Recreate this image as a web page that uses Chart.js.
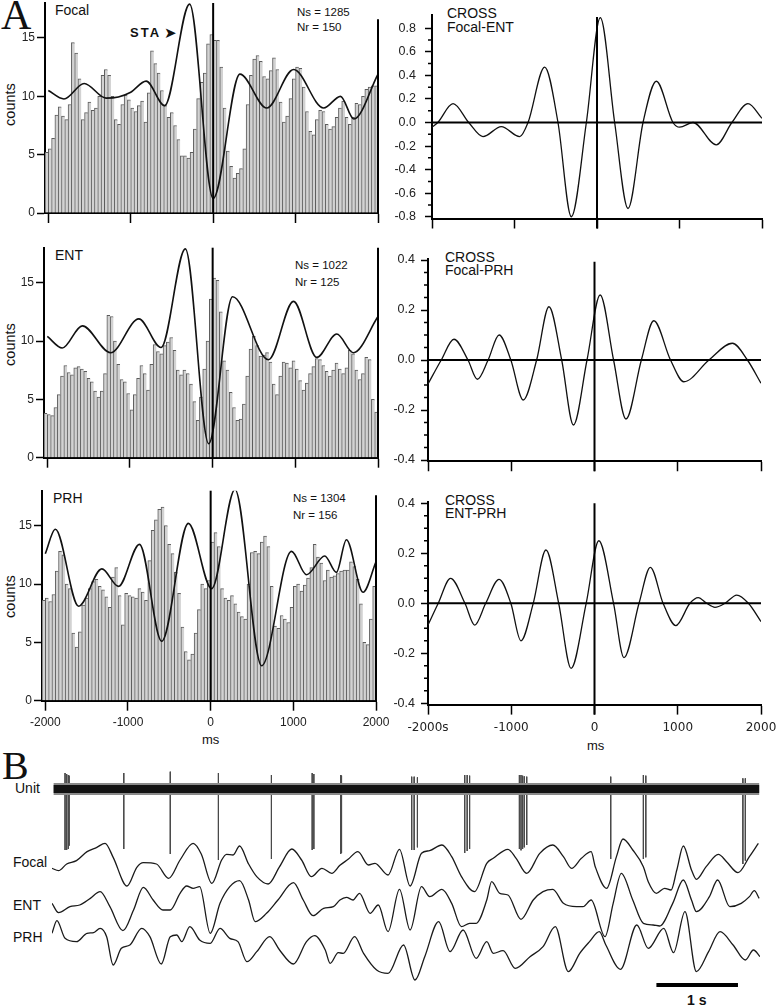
<!DOCTYPE html>
<html>
<head>
<meta charset="utf-8">
<script src="https://cdn.jsdelivr.net/npm/chart.js@4.4.1/dist/chart.umd.min.js"></script>
<style>
  body { margin: 0; background: #fff; }
  #fig { position: relative; width: 781px; height: 1008px; overflow: hidden;
         font-family: "Liberation Sans", Arial, sans-serif; color: #111; }
  #fig canvas { position: absolute; }
  .t { position: absolute; white-space: nowrap; line-height: 1; font-size: 14px; }
  .serif { font-family: "Liberation Serif", "Times New Roman", serif; }
  .rot { transform: rotate(-90deg); text-align: center; }
</style>
</head>
<body>
<div id="fig">
  <div class="t serif" style="left:1px;top:-6px;font-size:42px">A</div>
  <div class="t serif" style="left:2px;top:746px;font-size:40px">B</div>

  <!-- histogram panels -->
  <div class="t" style="left:55px;top:3px">Focal</div>
  <div class="t" style="left:130px;top:25px;font-size:13px;font-weight:bold;letter-spacing:2px">STA<span style="font-family:'DejaVu Sans';font-size:15px;letter-spacing:0;position:relative;top:1px;margin-left:3px">➤</span></div>
  <div class="t" style="left:297px;top:7px;font-size:11.5px">Ns = 1285</div>
  <div class="t" style="left:297px;top:22px;font-size:11.5px">Nr = 150</div>
  <div class="t rot" style="left:-20px;top:97px;width:60px;height:15px;font-size:14.5px">counts</div>

  <div class="t" style="left:55px;top:248px">ENT</div>
  <div class="t" style="left:295px;top:260px;font-size:11.5px">Ns = 1022</div>
  <div class="t" style="left:295px;top:277px;font-size:11.5px">Nr = 125</div>
  <div class="t rot" style="left:-20px;top:337px;width:60px;height:15px;font-size:14.5px">counts</div>

  <div class="t" style="left:53px;top:491px">PRH</div>
  <div class="t" style="left:293px;top:493px;font-size:11.5px">Ns = 1304</div>
  <div class="t" style="left:293px;top:510px;font-size:11.5px">Nr = 156</div>
  <div class="t rot" style="left:-20px;top:589px;width:60px;height:15px;font-size:14.5px">counts</div>
  <div class="t" style="left:202px;top:733px;font-size:13px">ms</div>

  <!-- cross-correlation panels -->
  <div class="t" style="left:447px;top:6px">CROSS</div>
  <div class="t" style="left:447px;top:20px">Focal-ENT</div>
  <div class="t" style="left:445px;top:250px">CROSS</div>
  <div class="t" style="left:445px;top:263px">Focal-PRH</div>
  <div class="t" style="left:445px;top:493px">CROSS</div>
  <div class="t" style="left:445px;top:506px">ENT-PRH</div>
  <div class="t" style="left:587px;top:739px;font-size:13px">ms</div>

  <!-- raw traces -->
  <div class="t" style="left:15px;top:781px">Unit</div>
  <div class="t" style="left:13px;top:855px">Focal</div>
  <div class="t" style="left:13px;top:898px">ENT</div>
  <div class="t" style="left:13px;top:930px">PRH</div>
  <div class="t" style="left:687px;top:993px;font-weight:bold">1 s</div>
</div>

<script>
// ─── DATA ───────────────────────────────────────────────────────
// histogram bins: 40 ms wide, first bin starts at -2040 ms
const binStart = -2040;
const binWidth = 40;

const focalCounts = [5.2,
  5.5,6.4,8.4,9.1,8.3,8.0,9.3,14.6,13.7,11.5, 8.0,8.6,9.5,8.8,9.0,10.0,11.8,12.3,11.8,10.0,
  8.0,7.6,9.3,10.1,9.7,9.0,8.7,9.2,9.6,7.8, 10.3,13.9,12.8,12.0,10.5,9.2,8.2,8.6,7.5,6.3,
  4.9,4.9,4.7,5.2,7.2,9.8,11.2,12.0,14.5,15.3, 14.8,14.8,12.5,9.0,5.3,4.0,3.0,3.4,3.8,5.5,
  9.3,11.8,13.2,13.5,13.0,11.7,11.5,12.2,13.3,12.3, 9.5,7.8,8.3,9.8,11.5,12.5,12.4,10.8,8.7,7.0,
  6.7,8.0,8.8,8.7,7.6,7.2,7.4,8.2,9.0,9.6, 8.2,7.6,8.2,9.4,9.3,10.0,10.6,10.8,10.9,10.9];

const entCounts = [3.8,
  3.7,3.6,4.3,5.4,7.0,7.9,7.3,7.1,7.7,7.8, 7.6,7.4,6.8,6.5,5.7,5.2,5.7,7.2,12.2,12.1,
  10.0,8.0,6.7,6.5,5.5,4.1,5.4,6.8,7.9,7.2, 5.8,8.0,9.7,9.1,8.9,9.6,9.9,10.3,9.2,7.5,
  7.1,7.5,7.2,6.3,4.8,3.2,5.2,7.6,10.0,13.6, 15.4,15.2,12.5,8.3,7.5,5.6,4.3,3.2,3.3,4.6,
  7.0,9.3,10.4,9.6,8.7,8.8,9.0,8.2,6.3,5.4, 7.0,8.2,8.1,7.7,8.3,7.6,6.6,5.8,6.4,7.2,
  7.8,8.5,8.4,7.9,7.4,7.0,7.5,8.1,7.6,7.2, 7.7,9.2,8.9,7.5,6.7,7.2,8.6,8.4,5.0,3.9];

const prhCounts = [8.6,
  8.8,8.5,9.1,11.1,12.8,12.5,10.0,9.6,5.8,4.6, 5.9,8.2,8.8,9.6,10.2,10.4,9.8,9.5,8.9,8.0,
  10.6,11.4,9.0,6.5,9.2,9.0,8.9,8.8,9.6,9.3, 8.6,12.0,14.6,15.5,16.4,16.6,15.0,13.4,12.6,11.0,
  9.2,6.3,4.2,3.5,4.0,5.8,7.8,10.0,9.6,10.3, 13.6,14.4,13.2,9.6,8.8,8.6,9.0,8.3,7.6,7.2,
  7.0,10.0,12.7,12.8,12.6,13.6,14.1,13.2,9.8,6.4, 6.2,7.3,7.0,6.7,8.0,9.8,10.0,9.4,9.9,10.5,
  11.4,13.4,12.3,11.8,10.3,11.2,10.6,10.7,10.9,11.1, 11.2,11.2,11.9,11.5,10.4,8.3,5.0,4.8,7.0,9.8];

// spike-triggered averages (ms, value on the counts scale)
const focalStaT = [-2000,-1810,-1565,-1300,-1150,-1000,-813,-589,-285,0,325,650,976,1341,1545,1707,2000];
const focalStaV = [10.5,9.77,11.1,9.85,9.95,10.35,11.3,9.2,17.9,1.25,11.9,9.0,12.3,9.0,10.0,8.06,11.9];
const entStaT   = [-2000,-1819,-1577,-1235,-893,-624,-330,-48,241,676,978,1260,1501,1702,2000];
const entStaV   = [10.4,9.4,11.3,9.0,11.9,9.45,17.9,1.2,13.8,8.4,13.4,8.6,10.6,9.0,12.1];
const prhStaT   = [-2000,-1879,-1597,-1316,-1115,-861,-592,-270,12,294,616,978,1159,1380,1521,1642,1843,2000];
const prhStaV   = [12.6,14.7,8.1,11.3,9.8,13.4,5.1,15.2,9.6,18.1,3.0,12.8,10.8,12.4,11.0,13.8,9.3,11.9];

// cross-correlations (ms, r)
const crossFeT = [-2000,-1930,-1745,-1555,-1382,-1160,-937,-836,-634,-473,-311,-129,40,214,376,558,719,921,1002,1164,1446,1635,1830,2000];
const crossFeV = [-0.04,0,0.16,0,-0.12,-0.035,-0.12,0,0.47,0,-0.80,0,0.89,0,-0.73,0,0.35,0,-0.04,0,-0.19,0,0.16,0.035];
const crossFpT = [-2000,-1841,-1688,-1520,-1407,-1278,-1146,-1005,-856,-695,-547,-394,-253,-90,68,229,378,563,712,913,1073,1375,1656,1837,2000];
const crossFpV = [-0.096,0,0.083,0,-0.077,0,0.10,0,-0.16,0,0.213,0,-0.26,0,0.26,0,-0.236,0,0.157,0,-0.087,0,0.067,0,-0.093];
const crossEpT = [-2000,-1877,-1729,-1556,-1439,-1307,-1146,-1005,-884,-736,-583,-430,-281,-100,52,229,354,535,671,824,977,1146,1246,1347,1447,1568,1709,1849,2000];
const crossEpV = [-0.087,0,0.10,0,-0.087,0,0.096,0,-0.15,0,0.213,0,-0.26,0,0.25,0,-0.217,0,0.144,0,-0.089,0,0.023,0,-0.016,0,0.033,0,-0.073];

// raw traces (s, arbitrary units)
const focalT = [0.00,0.08,0.18,0.30,0.43,0.55,0.65,0.75,0.92,1.04,1.12,1.28,1.43,1.57,1.73,1.83,1.96,2.08,2.14,2.22,
  2.30,2.41,2.51,2.65,2.79,2.94,3.06,3.18,3.31,3.43,3.53,3.63,3.75,3.88,3.96,4.12,4.26,4.39,4.53,4.63,
  4.78,4.90,5.02,5.18,5.33,5.41,5.59,5.69,5.82,5.98,6.14,6.27,6.37,6.49,6.61,6.66,6.80,6.92,7.00,7.12,
  7.25,7.31,7.41,7.51,7.59,7.66,7.74,7.84,7.90,8.02,8.17,8.27,8.41,8.55,8.66];
const focalV = [-1.0,-1.7,0.3,1.3,4.0,5.3,6.5,2.3,-6.3,-0.7,0.7,0.3,-4.0,1.5,6.5,3.3,-5.5,1.5,3.2,3.0,
  5.7,0.3,-3.5,-5.7,-0.5,4.8,1.5,-3.5,-1.0,-2.5,-0.1,1.7,4.0,0.0,0.5,-3.0,4.7,-6.3,3.5,4.3,
  6.0,2.5,-3.5,-8.0,0.5,2.0,4.7,2.0,-2.5,3.5,6.0,2.5,-1.0,2.0,4.0,-0.5,-7.0,2.5,7.8,4.5,
  -0.5,-5.0,-8.5,-7.0,-7.5,-1.5,5.7,-1.5,-4.3,-0.5,3.2,1.0,-2.3,2.5,6.5];
const entT = [0.00,0.08,0.22,0.34,0.47,0.59,0.71,0.87,1.00,1.12,1.24,1.36,1.45,1.57,1.65,1.73,1.81,1.94,2.06,2.18,
  2.30,2.41,2.49,2.63,2.77,2.96,3.08,3.20,3.33,3.45,3.53,3.61,3.69,3.77,3.90,4.00,4.12,4.26,4.39,4.53,
  4.63,4.78,4.90,5.02,5.12,5.20,5.33,5.39,5.49,5.59,5.75,5.90,6.02,6.14,6.27,6.43,6.51,6.61,6.78,6.88,
  6.98,7.12,7.25,7.37,7.45,7.61,7.74,7.84,7.90,8.06,8.16,8.31,8.45,8.55,8.61,8.67];
const entV = [1.5,-1.3,0.5,1.0,3.0,5.0,0.5,-6.7,-0.5,6.3,2.5,-0.5,-0.5,4.5,6.7,6.0,6.5,-7.5,1.5,6.5,
  8.3,2.5,-4.0,-1.5,2.5,7.7,2.5,-2.2,0.0,0.5,2.5,3.3,2.5,4.5,-1.5,1.0,-7.0,5.7,-6.5,6.5,
  3.5,5.7,1.5,-5.5,-4.5,-4.5,2.5,8.0,4.5,4.0,-3.3,2.5,5.0,5.7,1.5,0.5,0.5,2.5,-8.5,1.5,
  10.5,2.5,-4.5,-5.0,-5.3,1.5,8.5,2.5,-1.0,3.5,8.5,0.5,1.5,3.5,5.3,3.0];
const prhT = [0.00,0.06,0.16,0.30,0.43,0.51,0.59,0.67,0.75,0.85,0.955,1.10,1.20,1.34,1.45,1.53,1.59,1.69,1.81,1.94,
  2.06,2.18,2.28,2.39,2.51,2.67,2.79,2.96,3.12,3.22,3.35,3.41,3.51,3.57,3.71,3.82,3.98,4.12,4.31,4.45,
  4.57,4.74,4.88,5.04,5.20,5.33,5.41,5.53,5.68,5.86,6.02,6.17,6.33,6.47,6.59,6.71,6.79,6.97,7.17,7.31,
  7.50,7.62,7.76,7.90,8.05,8.19,8.35,8.50,8.60,8.68];
const prhV = [4.0,7.8,2.5,1.5,4.0,4.2,5.5,3.0,-5.5,-0.5,0.5,5.5,3.0,-5.2,3.0,3.5,1.5,6.0,2.0,1.0,
  5.5,2.5,1.5,-4.5,-1.5,3.0,-1.0,-5.2,1.5,3.3,-1.0,-5.0,-1.8,-2.0,3.0,-2.0,-7.0,-8.0,0.5,-10.0,
  -3.0,7.5,-1.5,5.0,-3.5,1.5,-2.0,-1.2,-6.5,-3.0,0.0,6.0,-7.5,-2.0,1.5,4.5,0.5,-6.8,6.5,-0.5,
  5.5,-1.8,10.5,-7.5,-1.5,4.5,0.5,-4.0,-1.0,-3.0];

// unit spikes (s), downward depth and upward height
const spikeT     = [0.16,0.18,0.20,0.21,0.88,1.45,2.04,2.69,3.19,3.21,3.54,3.55,4.41,4.44,4.48,5.06,5.09,5.12,5.73,5.75,5.77,5.79,5.82,6.85,7.25,7.28,8.47,8.50];
const spikeDepth = [-18.3,-18.3,-18,-17,-18,-19.5,-21.3,-21,-18.3,-18,-19.5,-19.2,-18.3,-18.3,-17.5,-19.2,-18.6,-18,-18,-18.4,-18,-17.5,-16.8,-21,-21,-20.5,-22.5,-21.5];
const spikeTop   = [4.8,4.5,4.2,4.0,4.8,5.2,4.8,4.2,4.8,4.5,4.2,4.0,3.7,3.7,3.5,4.2,4.2,4.0,4.2,4.2,4.0,3.8,3.7,3.7,4.2,4.0,3.2,3.2];
const unitSpan   = [0.02, 8.67];
const scaleBarT  = [7.41, 8.41];   // 1 s

// ticks
const histXTicks  = [-2000, -1000, 0, 1000, 2000];
const histXLabels = ['-2000', '-1000', '0', '1000', '2000'];
const crossXLabels = ['-2000s', '-1000', '0', '1000', '2000'];
const countTicks  = [0, 5, 10, 15];
const wideTicks   = [-0.8, -0.6, -0.4, -0.2, 0, 0.2, 0.4, 0.6, 0.8];
const wideMinor   = [-0.7, -0.5, -0.3, -0.1, 0.1, 0.3, 0.5, 0.7];
const narrowTicks = [-0.4, -0.2, 0, 0.2, 0.4];
const narrowMinor = [-0.35, -0.3, -0.25, -0.15, -0.1, -0.05, 0.05, 0.1, 0.15, 0.25, 0.3, 0.35];

// ─── HELPERS ────────────────────────────────────────────────────
const SANS = '"Liberation Sans", Arial, sans-serif';
const pts = (xs, ys, off = 0) => xs.map((x, i) => ({ x, y: ys[i] + off }));

function makeCanvas(b) {
  const c = document.createElement('canvas');
  c.width = b.w; c.height = b.h;
  c.style.left = b.l + 'px'; c.style.top = b.t + 'px';
  document.getElementById('fig').appendChild(c);
  return c;
}

// reference lines + minor ticks, drawn through the chart's scales
const refLines = {
  id: 'refLines',
  afterDatasetsDraw(chart, args, o) {
    const { ctx, chartArea: a, scales: { x, y } } = chart;
    ctx.save();
    ctx.strokeStyle = '#000';
    (o.vlines || []).forEach(v => {
      ctx.lineWidth = 2;
      const px = x.getPixelForValue(v.x);
      ctx.beginPath();
      ctx.moveTo(px, y.getPixelForValue(v.top));
      ctx.lineTo(px, a.bottom + (v.below || 0));
      ctx.stroke();
    });
    (o.hlines || []).forEach(h => {
      ctx.lineWidth = 2;
      const py = y.getPixelForValue(h.y);
      ctx.beginPath();
      ctx.moveTo(a.left, py);
      ctx.lineTo(a.right, py);
      ctx.stroke();
    });
    if (o.minor) {
      ctx.lineWidth = 1.5;
      ctx.beginPath();
      o.minor.forEach(m => {
        const py = y.getPixelForValue(m);
        ctx.moveTo(a.left - 4, py);
        ctx.lineTo(a.left, py);
      });
      ctx.stroke();
    }
    ctx.restore();
  }
};

const tickGrid = len => ({ drawOnChartArea: false, drawTicks: true, tickLength: len, tickWidth: 1.5, tickColor: '#000' });
const border = { display: true, color: '#000', width: 2 };

function xAxis(b, min, labels, font, pad) {
  return {
    type: 'linear', min, max: 2000, offset: false,
    afterBuildTicks: s => { s.ticks = histXTicks.map(v => ({ value: v })); },
    afterFit: s => { s.height = b.xH; s.paddingLeft = 0; s.paddingRight = 0; },
    grid: Object.assign(tickGrid(10), { offset: false }), border,
    ticks: { display: !!labels, autoSkip: false, maxRotation: 0, padding: pad, color: '#222',
             font: { family: font, size: 12 },
             callback: (v, i) => labels ? labels[i] : '' }
  };
}

// ─── 1. HISTOGRAMS + STA ────────────────────────────────────────
function histChart(b, counts, staT, staV, vlines, labels) {
  const bars = counts.map((c, i) => ({ x: binStart + binWidth * (i + 0.5), y: c }));
  return new Chart(makeCanvas(b), {
    type: 'bar',
    data: { datasets: [
      { type: 'line', data: pts(staT, staV), borderColor: '#111', borderWidth: 1.6,
        pointRadius: 0, cubicInterpolationMode: 'monotone', order: 0 },
      { type: 'bar', data: bars, backgroundColor: '#d2d2d2', borderColor: '#5c5c5c',
        borderWidth: { left: 1, top: 1, right: 0, bottom: 0 },
        barPercentage: 1, categoryPercentage: 1, order: 1 }
    ]},
    options: {
      responsive: false, animation: false, devicePixelRatio: 1,
      layout: { padding: { left: 0, top: b.padTop, right: b.padRight, bottom: 0 } },
      plugins: { legend: { display: false }, tooltip: { enabled: false }, refLines: { vlines } },
      scales: {
        x: xAxis(b, binStart, labels, SANS, 5),
        y: {
          min: 0, max: 18,
          afterBuildTicks: s => { s.ticks = countTicks.map(v => ({ value: v })); },
          afterFit: s => { s.width = b.yW; s.paddingTop = 0; s.paddingBottom = 0; },
          grid: tickGrid(8), border,
          ticks: { padding: 2, color: '#222', font: { family: SANS, size: 12 } }
        }
      }
    },
    plugins: [refLines]
  });
}

histChart({ l: 0, t: 0, w: 390, h: 232, padTop: 3, padRight: 12, yW: 45, xH: 19 },
  focalCounts, focalStaT, focalStaV, [{ x: 0, top: 18 }, { x: 2000, top: 16.6 }], null);
histChart({ l: 0, t: 240, w: 390, h: 236, padTop: 7.7, padRight: 12, yW: 44, xH: 18.3 },
  entCounts, entStaT, entStaV, [{ x: 0, top: 18 }, { x: 2000, top: 18 }], null);
histChart({ l: 0, t: 480, w: 390, h: 270, padTop: 10.7, padRight: 14, yW: 42, xH: 49.3 },
  prhCounts, prhStaT, prhStaV, [{ x: 0, top: 18 }, { x: 2000, top: 17.6 }], histXLabels);

// ─── 2. CROSS-CORRELATIONS ──────────────────────────────────────
function crossChart(b, xs, ys, range, ticks, minor, vTop, labels, yPad) {
  return new Chart(makeCanvas(b), {
    type: 'line',
    data: { datasets: [{ data: pts(xs, ys), borderColor: '#111', borderWidth: 1.3,
                         pointRadius: 0, cubicInterpolationMode: 'monotone' }] },
    options: {
      responsive: false, animation: false, devicePixelRatio: 1,
      layout: { padding: { left: 0, top: b.padTop, right: b.padRight, bottom: 0 } },
      plugins: { legend: { display: false }, tooltip: { enabled: false },
                 refLines: { vlines: [{ x: 0, top: vTop, below: 10 }], hlines: [{ y: 0 }], minor } },
      scales: {
        x: xAxis(b, -2000, labels, '"DejaVu Sans", sans-serif', 6),
        y: {
          min: range[0], max: range[1],
          afterBuildTicks: s => { s.ticks = ticks.map(v => ({ value: v })); },
          afterFit: s => { s.width = b.yW; s.paddingTop = 0; s.paddingBottom = 0; },
          grid: tickGrid(7), border,
          ticks: { padding: yPad, color: '#222', font: { family: SANS, size: 12.5 },
                   callback: v => v.toFixed(1) }
        }
      }
    },
    plugins: [refLines]
  });
}

crossChart({ l: 390, t: 0, w: 391, h: 236, padTop: 15.3, padRight: 19, yW: 42, xH: 17.5 },
  crossFeT, crossFeV, [-0.815, 0.91], wideTicks, wideMinor, 0.896, null, 9);
crossChart({ l: 390, t: 245, w: 391, h: 235, padTop: 13.75, padRight: 20, yW: 38, xH: 18.75 },
  crossFpT, crossFpV, [-0.405, 0.405], narrowTicks, narrowMinor, 0.393, null, 6);
crossChart({ l: 390, t: 490, w: 391, h: 270, padTop: 12, padRight: 20, yW: 38, xH: 55.4 },
  crossEpT, crossEpV, [-0.405, 0.405], narrowTicks, narrowMinor, 0.4, crossXLabels, 6);

// ─── 3. RAW TRACES (panel B) ────────────────────────────────────
const unitBase = 64.8, focalBase = 42, entBase = 29, prhBase = 17.5, barLevel = 6;

const spikeData = [];
spikeT.forEach((t, i) => {
  spikeData.push({ x: t, y: unitBase + spikeTop[i] }, { x: t, y: unitBase + spikeDepth[i] }, { x: t, y: null });
});
const trace = (data, w, color) => ({ data, borderColor: color, borderWidth: w, pointRadius: 0,
                                     cubicInterpolationMode: 'monotone' });

// Chart.js draws dataset 0 last (on top)
new Chart(makeCanvas({ l: 0, t: 760, w: 781, h: 248 }), {
  type: 'line',
  data: { datasets: [
    trace(pts(focalT, focalV, focalBase), 1.3, '#1a1a1a'),
    trace(pts(entT, entV, entBase), 1.3, '#1a1a1a'),
    trace(pts(prhT, prhV, prhBase), 1.3, '#1a1a1a'),
    trace(scaleBarT.map(t => ({ x: t, y: barLevel })), 4, '#000'),
    trace(unitSpan.map(t => ({ x: t, y: unitBase })), 8, '#121212'),
    trace(unitSpan.map(t => ({ x: t, y: unitBase })), 12, '#8a8a8a'),
    { data: spikeData, borderColor: '#4a4a4a', borderWidth: 1, pointRadius: 0, tension: 0, spanGaps: false }
  ]},
  options: {
    responsive: false, animation: false, devicePixelRatio: 1,
    layout: { padding: { left: 52, top: 5, right: 21, bottom: 3 } },
    plugins: { legend: { display: false }, tooltip: { enabled: false } },
    scales: {
      x: { type: 'linear', min: 0, max: 8.68, display: false },
      y: { min: 0, max: 72, display: false }
    }
  }
});
</script>
</body>
</html>
